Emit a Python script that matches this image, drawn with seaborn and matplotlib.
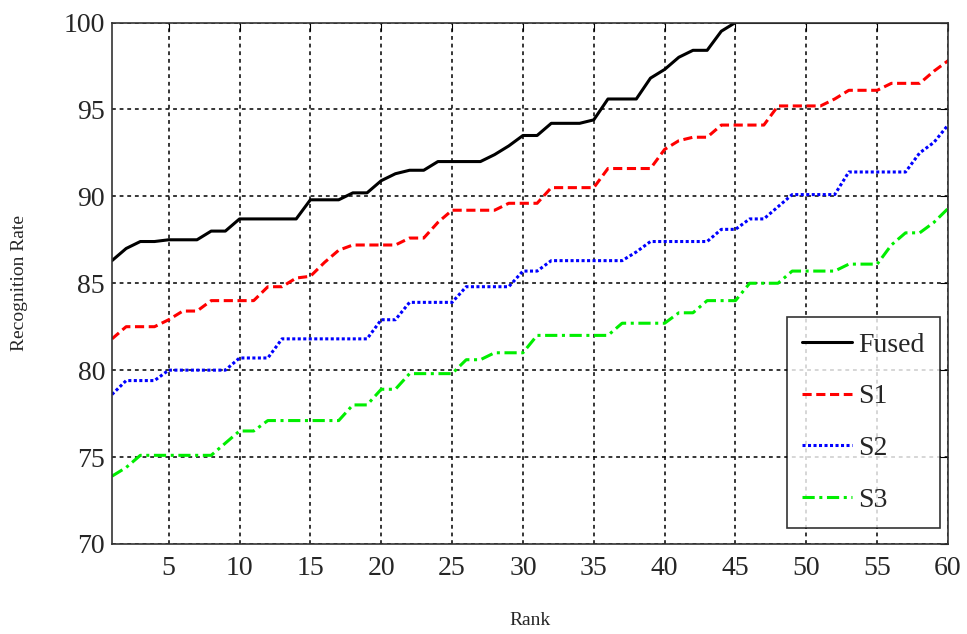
import numpy as np
import pandas as pd
import matplotlib.pyplot as plt
import seaborn as sns

sns.set_style("white")
plt.rcParams['font.family'] = ['Liberation Serif', 'DejaVu Serif']

rank = list(range(1, 61))

fused = [86.3, 87.0, 87.4, 87.4, 87.5, 87.5, 87.5, 88.0, 88.0, 88.7,
         88.7, 88.7, 88.7, 88.7, 89.8, 89.8, 89.8, 90.2, 90.2, 90.9,
         91.3, 91.5, 91.5, 92.0, 92.0, 92.0, 92.0, 92.4, 92.9, 93.5,
         93.5, 94.2, 94.2, 94.2, 94.4, 95.6, 95.6, 95.6, 96.8, 97.3,
         98.0, 98.4, 98.4, 99.5, 100, 100, 100, 100, 100, 100,
         100, 100, 100, 100, 100, 100, 100, 100, 100, 100]

s1 = [81.8, 82.5, 82.5, 82.5, 82.9, 83.4, 83.4, 84.0, 84.0, 84.0,
      84.0, 84.8, 84.8, 85.3, 85.4, 86.2, 86.9, 87.2, 87.2, 87.2,
      87.2, 87.6, 87.6, 88.5, 89.2, 89.2, 89.2, 89.2, 89.6, 89.6,
      89.6, 90.5, 90.5, 90.5, 90.5, 91.6, 91.6, 91.6, 91.6, 92.7,
      93.2, 93.4, 93.4, 94.1, 94.1, 94.1, 94.1, 95.2, 95.2, 95.2,
      95.2, 95.6, 96.1, 96.1, 96.1, 96.5, 96.5, 96.5, 97.2, 97.8]

s2 = [78.6, 79.4, 79.4, 79.4, 80.0, 80.0, 80.0, 80.0, 80.0, 80.7,
      80.7, 80.7, 81.8, 81.8, 81.8, 81.8, 81.8, 81.8, 81.8, 82.9,
      82.9, 83.9, 83.9, 83.9, 83.9, 84.8, 84.8, 84.8, 84.8, 85.7,
      85.7, 86.3, 86.3, 86.3, 86.3, 86.3, 86.3, 86.8, 87.4, 87.4,
      87.4, 87.4, 87.4, 88.1, 88.1, 88.7, 88.7, 89.4, 90.1, 90.1,
      90.1, 90.1, 91.4, 91.4, 91.4, 91.4, 91.4, 92.5, 93.1, 94.1]

s3 = [73.9, 74.4, 75.1, 75.1, 75.1, 75.1, 75.1, 75.1, 75.8, 76.5,
      76.5, 77.1, 77.1, 77.1, 77.1, 77.1, 77.1, 78.0, 78.0, 78.9,
      78.9, 79.8, 79.8, 79.8, 79.8, 80.6, 80.6, 81.0, 81.0, 81.0,
      82.0, 82.0, 82.0, 82.0, 82.0, 82.0, 82.7, 82.7, 82.7, 82.7,
      83.3, 83.3, 84.0, 84.0, 84.0, 85.0, 85.0, 85.0, 85.7, 85.7,
      85.7, 85.7, 86.1, 86.1, 86.1, 87.2, 87.9, 87.9, 88.5, 89.3]

series = {"Fused": fused, "S1": s1, "S2": s2, "S3": s3}
styles = {
    "Fused": dict(color="black", linestyle="-"),
    "S1": dict(color="#ff0000", linestyle=(0, (3, 1.5))),
    "S2": dict(color="#0000ff", linestyle=(0, (1, 0.8))),
    "S3": dict(color="#00ee00", linestyle=(0, (4, 1.5, 1, 1.5))),
}

df = pd.DataFrame({"Rank": rank, **series})

fig = plt.figure(figsize=(9.67, 6.34), dpi=100)
ax = fig.add_axes([0.1158, 0.142, 0.8646, 0.8225])

for name in series:
    sns.lineplot(data=df, x="Rank", y=name, ax=ax, label=name,
                 linewidth=2.2, **styles[name])

ax.set_xlim(1, 60)
ax.set_ylim(70, 100)
ax.set_xticks(range(5, 61, 5))
ax.set_yticks(range(70, 101, 5))
ax.grid(True, color="black", linestyle=(0, (2.5, 2.5)), linewidth=1.1)
ax.tick_params(direction="in", top=True, right=True, length=6,
               labelsize=20, color="black")
ax.tick_params(axis="x", pad=9)
ax.tick_params(axis="y", pad=5)
for sp in ax.spines.values():
    sp.set_color("#333333")
    sp.set_linewidth(1.2)

ax.set_xlabel("Rank", fontsize=14, labelpad=22)
ax.set_ylabel("Recognition Rate", fontsize=14, labelpad=26)

leg = ax.legend(loc="lower right", bbox_to_anchor=(0.99, 0.03), fontsize=20,
                frameon=True, fancybox=False, edgecolor="black",
                handlelength=1.8, labelspacing=0.95, borderpad=0.55,
                handletextpad=0.2, borderaxespad=0)
leg.get_frame().set_linewidth(1.2)

fig.savefig("out.png", dpi=100)
